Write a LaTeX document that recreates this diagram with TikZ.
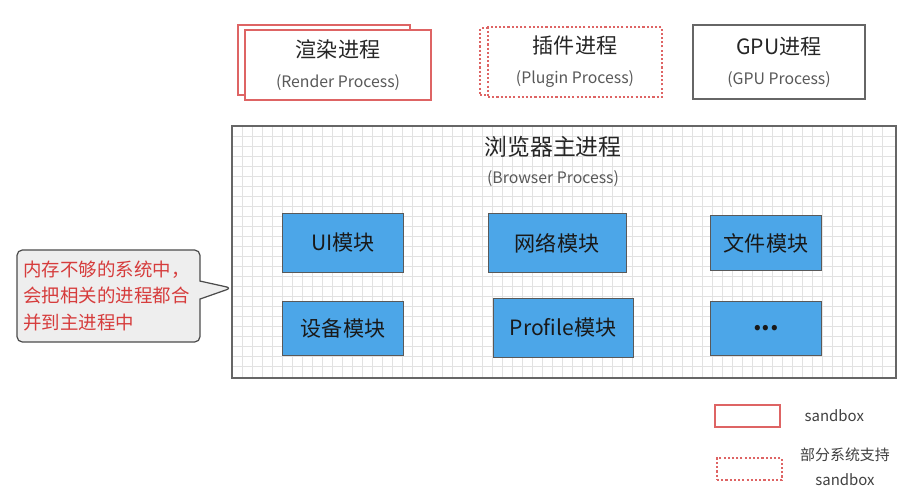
\documentclass[tikz,border=0pt]{standalone}
\usepackage{fontspec}
\setmainfont{Noto Sans CJK SC}
\usepackage{tikz}
\usetikzlibrary{positioning,shapes.callouts}

\definecolor{sbred}{RGB}{222,100,100}
\definecolor{modblue}{RGB}{76,166,232}
\definecolor{gridgray}{RGB}{226,226,226}
\definecolor{notegray}{RGB}{238,238,238}
\definecolor{notered}{RGB}{214,60,60}

\newcommand{\proctitle}{\fontsize{12}{14}\selectfont}
\newcommand{\procsub}{\fontsize{9}{11}\selectfont\color{black!65}}

\begin{document}
\begin{tikzpicture}[x=0.02cm, y=-0.02cm,
    sbline/.style={draw=sbred, line width=0.6pt},
    partline/.style={draw=sbred, line width=0.8pt, dash pattern=on 1.2pt off 1.2pt},
    procbox/.style={fill=white, inner sep=0pt, align=center, text=black!85},
    module/.style={draw=black!65, fill=modblue, inner sep=0pt, text=black!90, font=\fontsize{12}{14}\selectfont},
    gridline/.style={draw=gridgray, line width=0.4pt}]
    \useasboundingbox (0,0) rectangle (910,498);

    % processes on top
    \node [procbox, sbline, minimum width=3.44cm, minimum height=1.4cm] (renderback) at (324,60) {};
    \node [procbox, sbline, minimum width=3.72cm, minimum height=1.4cm] (render) at (338,65)
        {\proctitle 渲染进程\\[5pt]\procsub (Render Process)};
    \node [procbox, partline, minimum width=3.5cm, minimum height=1.34cm] (pluginback) at (567.5,61.5) {};
    \node [procbox, partline, minimum width=3.48cm, minimum height=1.4cm] (plugin) at (575,62)
        {\proctitle 插件进程\\[5pt]\procsub (Plugin Process)};
    \node [procbox, draw=black!60, line width=0.6pt, minimum width=3.44cm, minimum height=1.48cm] (gpu) at (779,62)
        {\proctitle GPU进程\\[5pt]\procsub (GPU Process)};

    % browser process with its grid
    \foreach \gx in {242,252,...,886} \draw [gridline] (\gx,126) -- (\gx,378);
    \foreach \gy in {136,146,...,370} \draw [gridline] (232,\gy) -- (896,\gy);
    \node [draw=black!60, line width=0.7pt, minimum width=13.28cm, minimum height=5.04cm] (browser) at (564,252) {};
    \node [align=center, text=black!85] (browsertitle) at (553,161)
        {\fontsize{13}{15}\selectfont 浏览器主进程\\[4pt]\procsub (Browser Process)};

    \node [module, minimum width=2.42cm, minimum height=1.18cm] (ui) at (343,243) {UI模块};
    \node [module, minimum width=2.76cm, minimum height=1.18cm] (net) at (557,243) {网络模块};
    \node [module, minimum width=2.22cm, minimum height=1.1cm] (file) at (766,243) {文件模块};
    \node [module, minimum width=2.42cm, minimum height=1.08cm] (device) at (343,328) {设备模块};
    \node [module, minimum width=2.8cm, minimum height=1.18cm] (profile) at (563,328) {Profile模块};
    \node [module, minimum width=2.22cm, minimum height=1.08cm, font=\fontsize{14}{16}\selectfont\bfseries] (more) at (766,328) {...};

    % note on the left
    \node [rectangle callout, draw=black!70, line width=0.7pt, fill=notegray, rounded corners=3pt,
        minimum width=3.66cm, minimum height=1.84cm, callout pointer width=0.36cm,
        callout absolute pointer={(browser.west |- 0,288)},
        text width=3.4cm, align=left, inner sep=0pt, text=notered,
        font=\fontsize{10.5}{15.3}\selectfont] (note) at (108.5,296)
        {内存不够的系统中，\\会把相关的进程都合\\并到主进程中};

    % legend
    \node [sbline, minimum width=1.3cm, minimum height=0.44cm] (legsolid) at (747.5,416) {};
    \node [right=0.36cm of legsolid, text=black!75, font=\fontsize{8.5}{10}\selectfont] (legsolidtext) {sandbox};
    \node [partline, minimum width=1.3cm, minimum height=0.44cm] (legpart) at (749.5,469) {};
    \node [align=center, text=black!75, font=\fontsize{8.5}{14}\selectfont] (legparttext) at (845,467)
        {部分系统支持\\sandbox};
\end{tikzpicture}
\end{document}
